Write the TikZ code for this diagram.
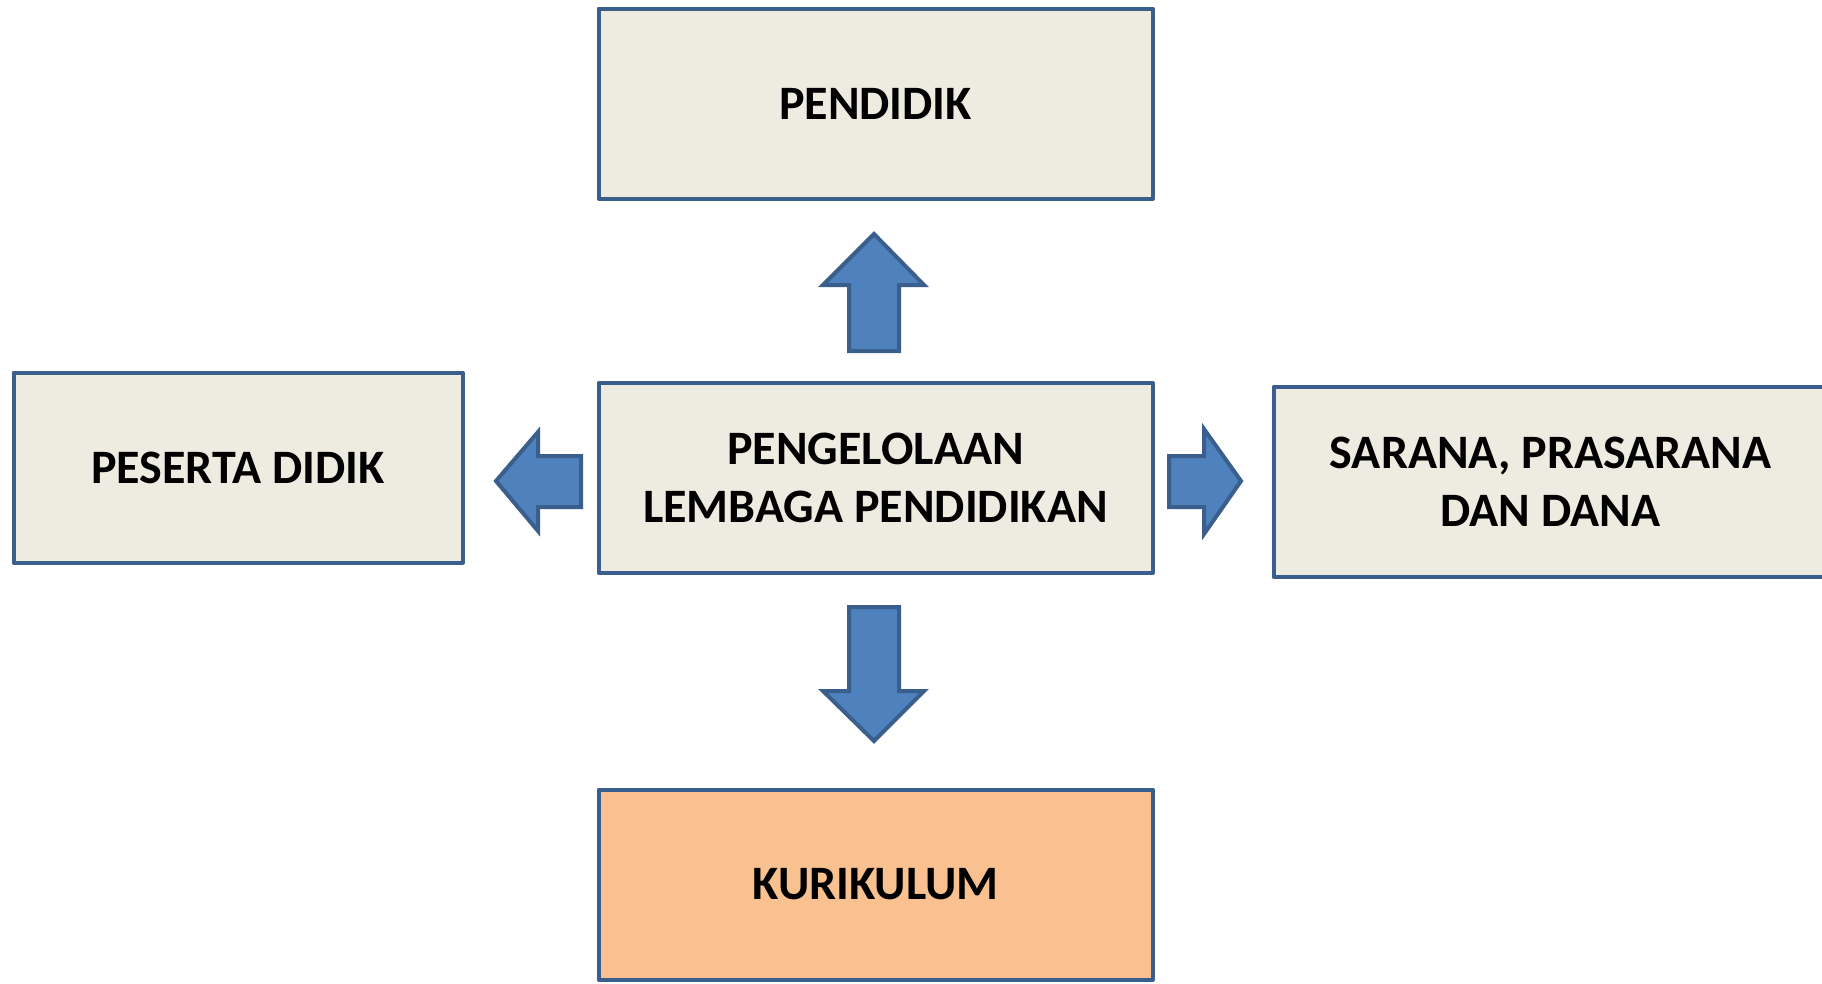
\documentclass[tikz,border=0pt]{standalone}
\usepackage{fontspec}
\setmainfont{Carlito}
\definecolor{boxfill}{HTML}{EEECE1}
\definecolor{boxline}{HTML}{3A5F8C}
\definecolor{arrfill}{HTML}{4F81BD}
\definecolor{kurfill}{HTML}{F9C090}
\tikzset{
  blk/.style={draw=boxline, line width=4pt, fill=boxfill, line join=round, rectangle,
    minimum width=554pt, minimum height=190pt, align=center, inner sep=0pt,
    font=\fontsize{48}{58}\selectfont\bfseries},
  blkarrow/.style={draw=boxline, line width=4pt, fill=arrfill, line join=miter}
}
\begin{document}
\begin{tikzpicture}[x=1pt,y=-1pt]
\useasboundingbox (0,0) rectangle (1822,983);
\fill[white] (0,0) rectangle (1822,983);
\node[blk] (pend) at (875.5,103.5) {PENDIDIK};
\node[blk] (cent) at (875.5,478) {PENGELOLAAN\\LEMBAGA PENDIDIKAN};
\node[blk, minimum width=449pt] (pes) at (238,467.5) {PESERTA DIDIK};
\begin{scope}
\clip (0,0) rectangle (1822,983);
\node[blk] (sar) at (1550.5,482) {SARANA, PRASARANA\\DAN DANA};
\end{scope}
\node[blk, fill=kurfill] (kur) at (875.5,884.5) {KURIKULUM};
% up arrow
\draw[blkarrow] (874,234) -- (924,285) -- (899,285) -- (899,351) -- (849,351) -- (849,285) -- (823,285) -- cycle;
% down arrow
\draw[blkarrow] (849,607) -- (899,607) -- (899,691) -- (924,691) -- (874,741) -- (823,691) -- (849,691) -- cycle;
% left arrow
\draw[blkarrow] (496,481) -- (538,432) -- (538,456) -- (581,456) -- (581,507) -- (538,507) -- (538,531) -- cycle;
% right arrow
\draw[blkarrow] (1169,456) -- (1204,456) -- (1204,429) -- (1241,481) -- (1204,534) -- (1204,507) -- (1169,507) -- cycle;
\end{tikzpicture}
\end{document}
